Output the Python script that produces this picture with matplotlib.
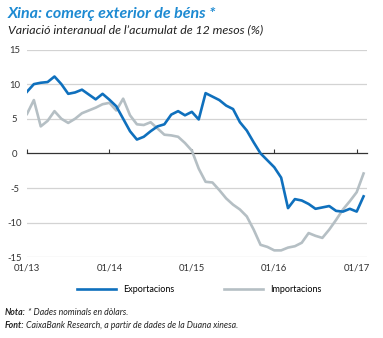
import matplotlib
matplotlib.use("Agg")
import matplotlib.pyplot as plt
import numpy as np
from matplotlib.lines import Line2D

plt.rcParams['font.family'] = ['Lato', 'DejaVu Sans']

tick_labels = ["01/13", "01/14", "01/15", "01/16", "01/17"]
tick_index = [0, 12, 24, 36, 48]

exportacions = [8.9, 10.0, 10.2, 10.3, 11.1, 10.0, 8.6, 8.8, 9.2, 8.5,
                7.8, 8.6, 7.75, 6.8, 5.0, 3.2, 2.0, 2.4, 3.2, 3.9,
                4.2, 5.6, 6.1, 5.5, 6.0, 4.9, 8.7, 8.2, 7.7, 6.9,
                6.4, 4.5, 3.3, 1.6, 0.0, -1.0, -2.0, -3.5, -7.9, -6.6,
                -6.8, -7.3, -8.0, -7.8, -7.6, -8.3, -8.4, -8.0, -8.4, -6.2]
importacions = [5.7, 7.7, 3.9, 4.7, 6.1, 5.0, 4.4, 5.0, 5.8, 6.2,
                6.6, 7.1, 7.3, 6.2, 7.9, 5.5, 4.2, 4.1, 4.5, 3.6,
                2.7, 2.6, 2.4, 1.5, 0.4, -2.2, -4.1, -4.2, -5.3, -6.5,
                -7.4, -8.1, -9.1, -11.0, -13.2, -13.5, -14.0, -14.0, -13.6, -13.4,
                -12.9, -11.5, -11.9, -12.2, -11.0, -9.6, -8.1, -6.9, -5.6, -2.9]
yticks = [-15, -10, -5, 0, 5, 10, 15]

BLUE = "#0f70bd"
GREY = "#b5bfc4"
TITLE = "#1d8ad2"

W, H = 383, 338
fig = plt.figure(figsize=(W / 100, H / 100), dpi=100)
ax = fig.add_axes([27 / W, 1 - 257.3 / H, (367 - 27) / W, (257.3 - 49.5) / H])

x = np.arange(len(exportacions))
for yv in yticks:
    if yv != 0:
        ax.axhline(yv, color="#d3d3d3", lw=0.9, zorder=1)
ax.plot(x, importacions, color=GREY, lw=1.9, zorder=3, solid_joinstyle='round')
ax.plot(x, exportacions, color=BLUE, lw=1.9, zorder=4, solid_joinstyle='round')

ax.set_xlim(0, 49.5)
ax.set_ylim(-15, 15)
for s in ["top", "right", "left"]:
    ax.spines[s].set_visible(False)
ax.spines["bottom"].set_position(("data", 0))
ax.spines["bottom"].set_color("#333333")
ax.spines["bottom"].set_linewidth(0.9)
ax.spines["bottom"].set_zorder(2)
ax.set_xticks(tick_index)
ax.tick_params(axis="x", direction="in", length=3, width=0.8, color="#333333", labelbottom=False)
ax.set_yticks(yticks)
ax.set_yticklabels([str(v) for v in yticks])
ax.tick_params(axis="y", length=0, pad=9, labelsize=6.8, labelcolor="#333333")
for lab in ax.get_yticklabels():
    lab.set_horizontalalignment("center")

sec = ax.secondary_xaxis("bottom")
sec.set_xticks(tick_index)
sec.set_xticklabels(tick_labels)
sec.tick_params(length=0, pad=4.5, labelsize=6.8, labelcolor="#333333")
sec.spines["bottom"].set_visible(False)

fig.text(8 / W, 1 - 18 / H, "Xina: comerç exterior de béns *", color=TITLE,
         fontsize=11.5, fontweight="bold", fontstyle="italic", va="baseline")
fig.text(8 / W, 1 - 33 / H, "Variació interanual de l’acumulat de 12 mesos (%)", color="#222222",
         fontsize=8.9, fontstyle="italic", va="baseline")

h1 = Line2D([], [], color=BLUE, lw=1.9)
h2 = Line2D([], [], color=GREY, lw=1.9)
fig.legend([h1, h2], ["Exportacions", "Importacions"], loc="center",
           bbox_to_anchor=(199 / W, 1 - 290 / H), ncol=2, frameon=False,
           fontsize=6.5, handlelength=4.3, columnspacing=5.5, handletextpad=0.8)

renderer = fig.canvas.get_renderer()
def mixed(xp, yp, bold, rest):
    t = fig.text(xp / W, 1 - yp / H, bold, fontsize=6.3, fontweight="bold",
                 fontstyle="italic", va="baseline", color="#222222")
    bb = t.get_window_extent(renderer=renderer)
    fig.text(bb.x1 / W + 2 / W, 1 - yp / H, rest, fontsize=6.3,
             fontstyle="italic", va="baseline", color="#222222")

mixed(5, 315, "Nota:", "* Dades nominals en dòlars.")
mixed(5, 328, "Font:", "CaixaBank Research, a partir de dades de la Duana xinesa.")

fig.savefig("out.png", dpi=100)
